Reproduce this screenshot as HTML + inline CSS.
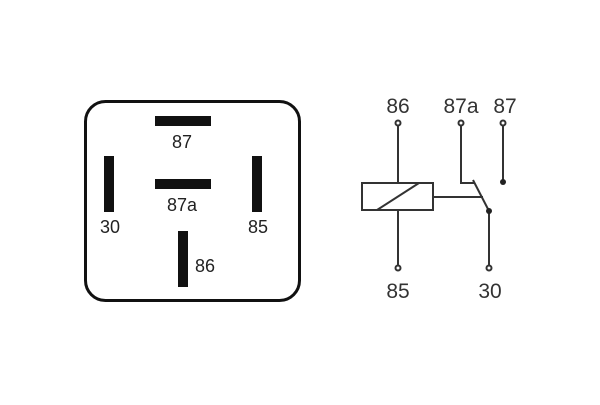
<!DOCTYPE html>
<html><head><style>body{margin:0;background:#fff}</style></head><body>
<svg width="600" height="400" xmlns="http://www.w3.org/2000/svg" font-family="Liberation Sans, sans-serif">
<rect x="85.5" y="101.5" width="214" height="199" rx="20" fill="none" stroke="#111" stroke-width="3"/>
<g fill="#111">
<rect x="155" y="116" width="56" height="10"/>
<rect x="155" y="179" width="56" height="10"/>
<rect x="104" y="156" width="10" height="56"/>
<rect x="252" y="156" width="10" height="56"/>
<rect x="178" y="231" width="10" height="56"/>
</g>
<g font-size="18" fill="#222" text-anchor="middle">
<text x="182" y="148">87</text>
<text x="182" y="211">87a</text>
<text x="110" y="233">30</text>
<text x="258" y="233">85</text>
<text x="205" y="272">86</text>
</g>
<g stroke="#333" stroke-width="2" fill="none">
<line x1="398" y1="126" x2="398" y2="183"/>
<line x1="398" y1="210" x2="398" y2="265"/>
<rect x="362" y="183" width="71" height="27"/>
<line x1="377" y1="210" x2="419" y2="183"/>
<line x1="433" y1="197" x2="483" y2="197"/>
<polyline points="461,126 461,183 475,183"/>
<line x1="473" y1="180" x2="489" y2="211"/>
<line x1="489" y1="211" x2="489" y2="265"/>
<line x1="503" y1="126" x2="503" y2="182"/>
<circle cx="398" cy="123" r="2.5"/>
<circle cx="461" cy="123" r="2.5"/>
<circle cx="503" cy="123" r="2.5"/>
<circle cx="398" cy="268" r="2.5"/>
<circle cx="489" cy="268" r="2.5"/>
</g>
<circle cx="503" cy="182" r="3" fill="#222"/>
<circle cx="489" cy="211" r="3" fill="#222"/>
<g font-size="21" fill="#333" text-anchor="middle">
<text x="398" y="113">86</text>
<text x="461" y="113">87a</text>
<text x="505" y="113">87</text>
<text x="398" y="298">85</text>
<text x="490" y="298">30</text>
</g>
</svg>
</body></html>
